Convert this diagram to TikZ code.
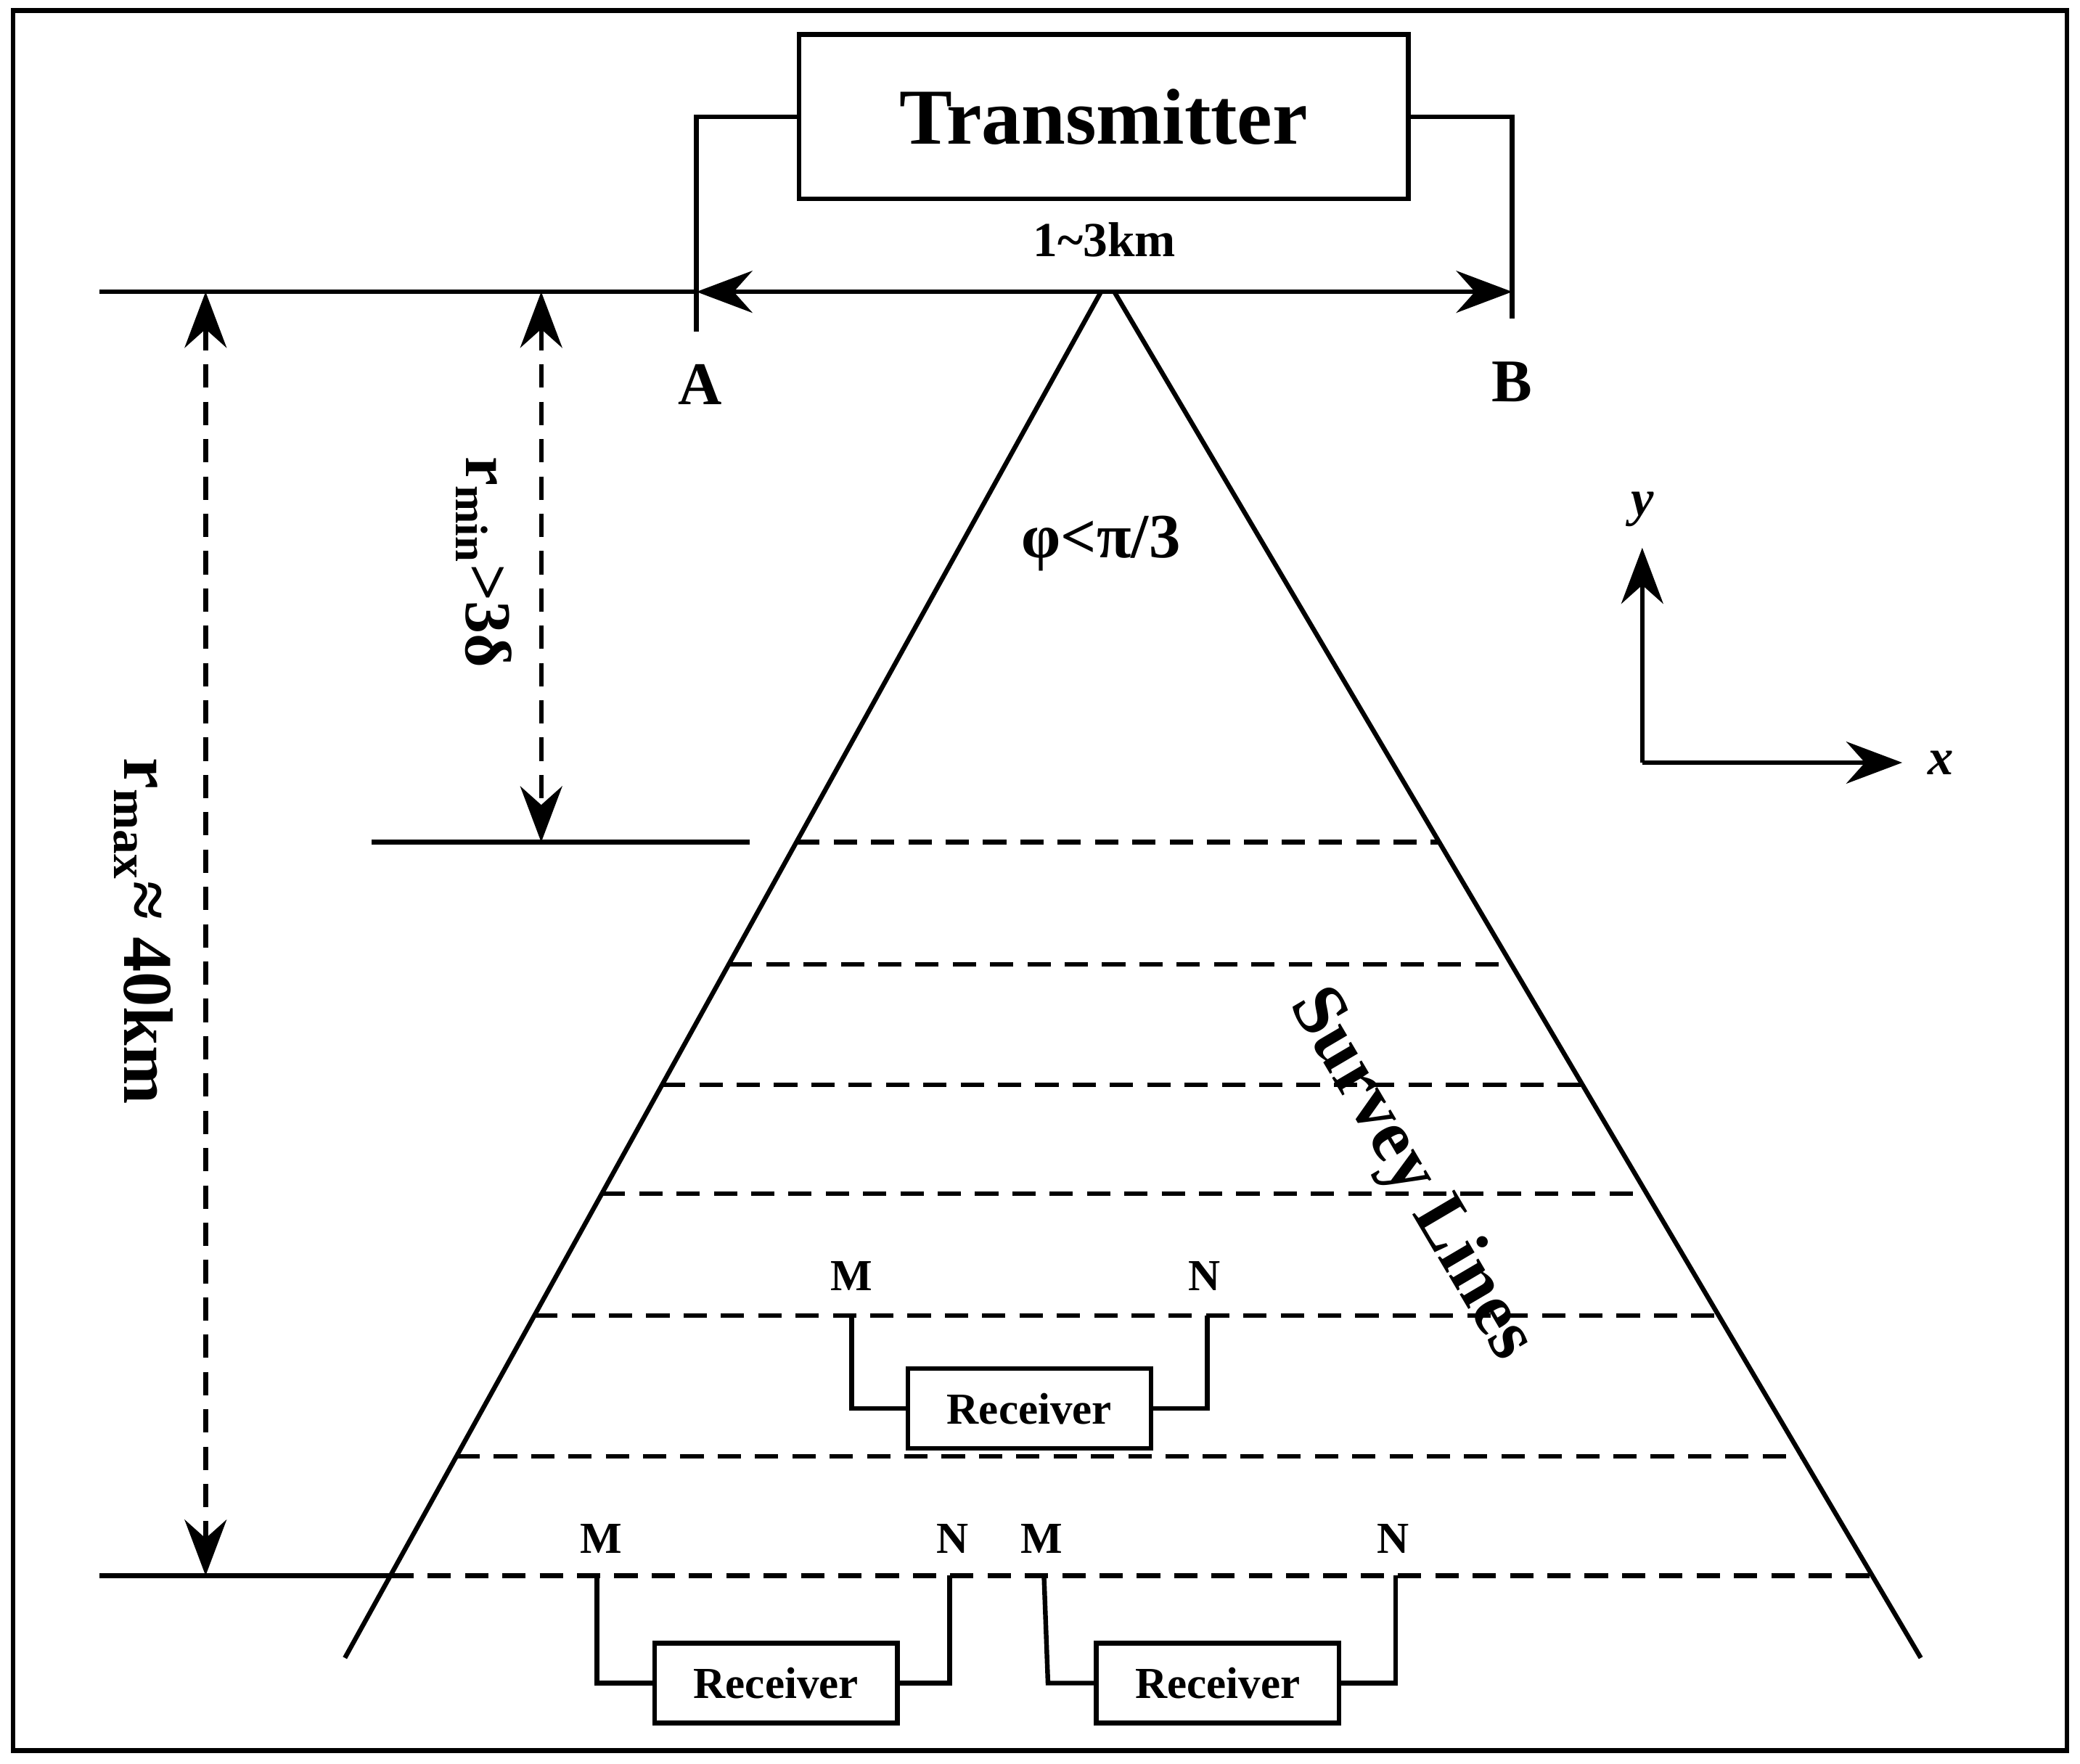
\documentclass[tikz,border=0pt]{standalone}
\usepackage{fontspec}
\setmainfont{Liberation Serif}
\usetikzlibrary{arrows.meta}
\begin{document}
\begin{tikzpicture}[x=0.01cm,y=-0.01cm,line width=1pt,>={Stealth[length=12pt,width=9pt,inset=4pt]}]
\tikzstyle{rec}=[rectangle,draw,minimum width=1.83cm,minimum height=0.6cm,inner sep=0pt,font=\bfseries\fontsize{9.5}{11}\selectfont]
\tikzstyle{lbl}=[inner sep=0pt,font=\bfseries\fontsize{9.5}{11}\selectfont]
\tikzstyle{big}=[inner sep=0pt,font=\bfseries\fontsize{14}{16}\selectfont]
\tikzstyle{dsh}=[dash pattern=on 5pt off 3pt]
\useasboundingbox (0,0) rectangle (1568,1330);
\draw (10,8) rectangle (1558,1320);

% transmitter and electrodes
\node[rectangle,draw,minimum width=4.59cm,minimum height=1.24cm,font=\bfseries\fontsize{17}{20}\selectfont] (tx) at (832,88) {Transmitter};
\coordinate (a) at (525,220); \coordinate (b) at (1140,220);
\draw (tx.west) -| (525,250);
\draw (tx.east) -| (1140,240);
\draw[<->] (a) -- node[above=7pt,lbl,font=\bfseries\fontsize{10.5}{12}\selectfont] {1\textasciitilde3km} (b);
\node[big,font=\bfseries\fontsize{13}{15}\selectfont] (A) at (528,290) {A};
\node[big,font=\bfseries\fontsize{13}{15}\selectfont] (B) at (1140,288) {B};

% ground lines and distances
\coordinate (g0) at (75,220); \coordinate (rmin0) at (408,220); \coordinate (rmin1) at (408,635);
\coordinate (rmax0) at (155,220); \coordinate (rmax1) at (155,1188);
\draw (g0) -- (a);
\draw (280,635) -- (565,635);
\draw (75,1188) -- (294,1188);
\draw[<->,dsh] (rmin0) -- (rmin1);
\draw[<->,dsh] (rmax0) -- (rmax1);
\node[big,rotate=-90] (rmin) at (365,424) {r\textsubscript{min}>3δ};
\node[big,rotate=-90,font=\bfseries\fontsize{15}{17}\selectfont] (rmax) at (108,702) {r\textsubscript{max}≈ 40km};

% survey area
\coordinate (top1) at (830,220); \coordinate (top2) at (840,220);
\draw (top1) -- (260,1250);
\draw (top2) -- (1448,1250);
\node[big,font=\bfseries\fontsize{13.5}{15}\selectfont] (phi) at (830,410) {φ<π/3};
\foreach \y in {635,727,818,900,992,1098,1188}
  \draw[dsh] ({830-0.5534*(\y-220)},\y) -- ({840+0.590*(\y-220)},\y);
\node[big,rotate=-59.5,font=\bfseries\fontsize{16}{18}\selectfont] (sl) at (1063,886) {Survey Lines};

% receivers
\node[rec] (r1) at (776,1062) {Receiver};
\node[lbl] (m1) at (642,962) {M}; \node[lbl] (n1) at (908,962) {N};
\draw (642,992) |- (r1.west); \draw (r1.east) -| (910,992);
\node[rec] (r2) at (585,1269) {Receiver};
\node[lbl] (m2) at (453,1160) {M}; \node[lbl] (n2) at (718,1160) {N};
\draw (450,1188) |- (r2.west); \draw (r2.east) -| (716,1188);
\node[rec] (r3) at (918,1269) {Receiver};
\node[lbl] (m3) at (785,1160) {M}; \node[lbl] (n3) at (1050,1160) {N};
\draw (787,1188) -- (790,1269) -- (r3.west); \draw (r3.east) -| (1052,1188);

% axes
\coordinate (o) at (1238,575);
\draw[->] (o) -- (1238,413) node[above=4pt,lbl,font=\bfseries\itshape\fontsize{11}{12}\selectfont] (y) {y};
\draw[->] (o) -- (1434,575) node[right=5pt,lbl,font=\bfseries\itshape\fontsize{11}{12}\selectfont] (x) {x};
\end{tikzpicture}
\end{document}
